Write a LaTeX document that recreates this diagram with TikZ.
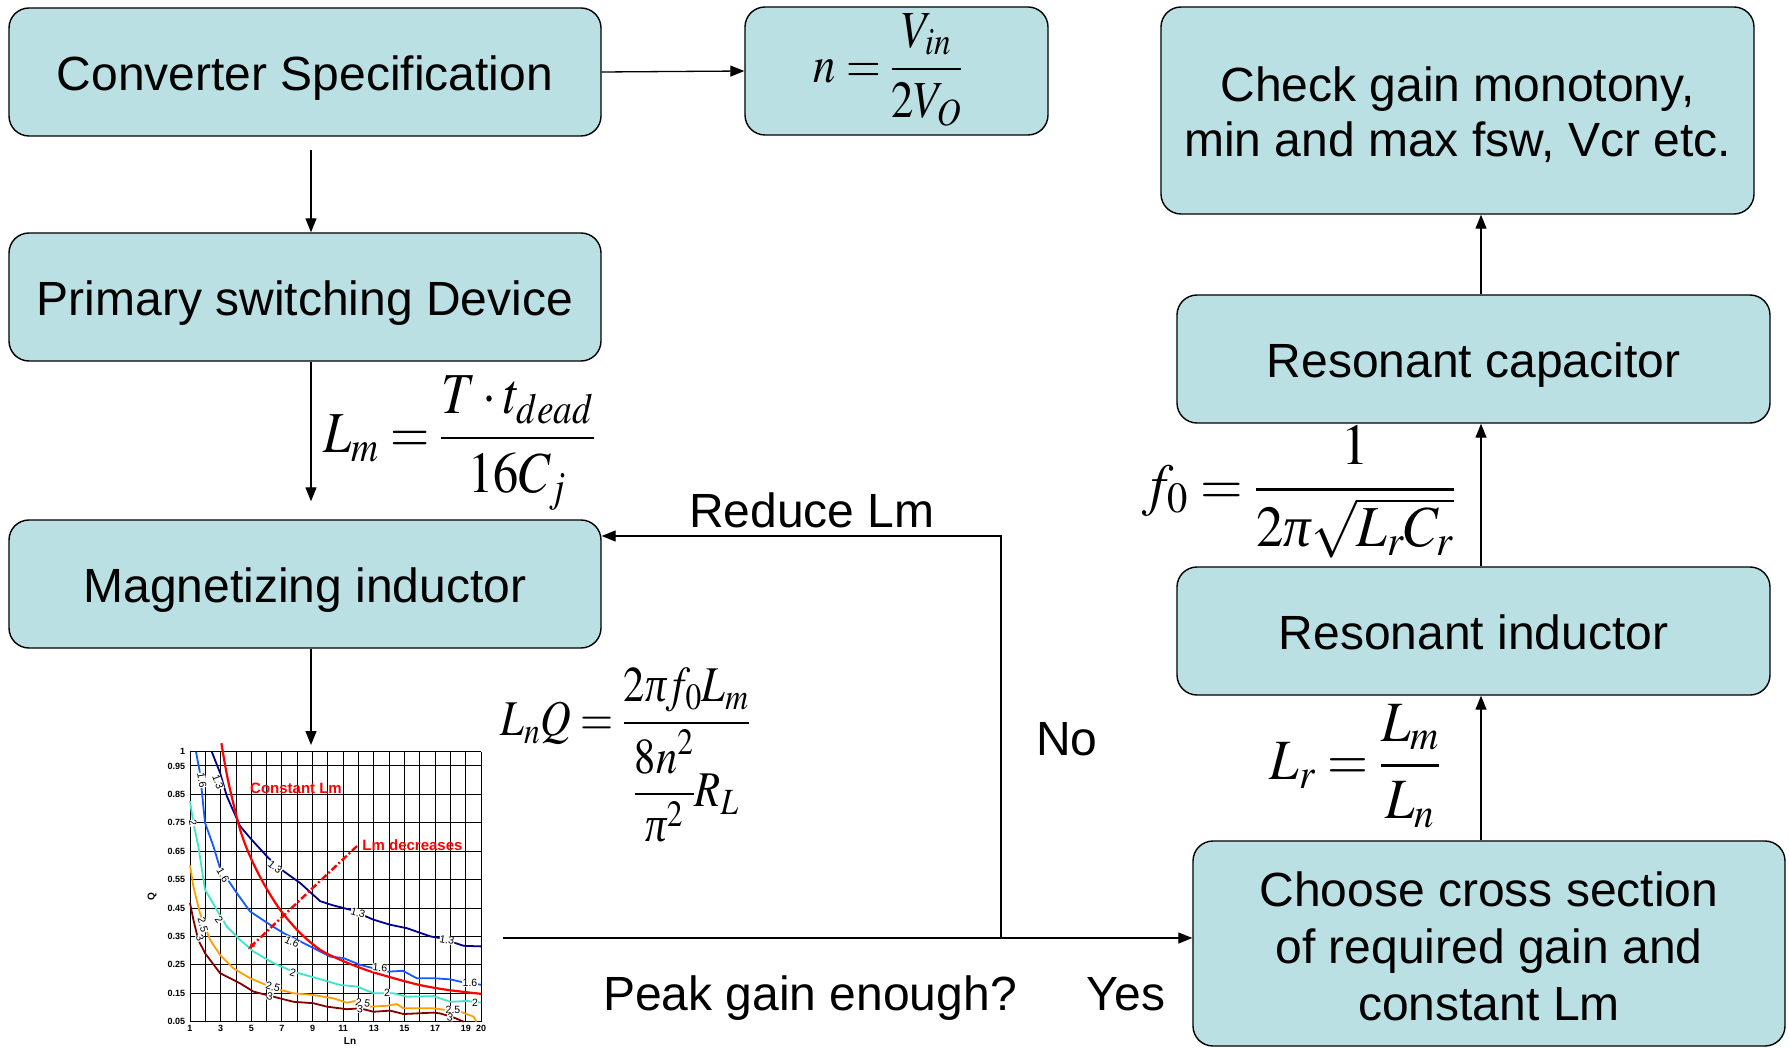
\documentclass[tikz,border=0pt]{standalone}
\usepackage{mathptmx}
\usepackage[no-math]{fontspec}
\setmainfont{Liberation Sans}
\newfontfamily\libserif{Liberation Serif}
\usetikzlibrary{arrows.meta}
\definecolor{boxfill}{RGB}{187,224,227}
\definecolor{cnavy}{RGB}{0,0,140}
\definecolor{cblue}{RGB}{20,90,255}
\definecolor{ccyan}{RGB}{60,230,200}
\definecolor{corange}{RGB}{255,160,0}
\definecolor{cmaroon}{RGB}{130,0,0}
\newcommand\flowfont{\fontsize{48}{55}\selectfont}
\newcommand\tickfont{\fontsize{9}{9}\selectfont\bfseries}
\newcommand\curvefont{\fontsize{10.5}{10.5}\selectfont}
\newcommand\ipi{\mbox{\libserif\itshape π}}
\begin{document}
\begin{tikzpicture}[x=1pt,y=-1pt,
  box/.style={draw=black,line width=1.4pt,fill=boxfill,rounded corners=20pt,inner sep=0pt,align=center,font=\flowfont},
  onebox/.style={box,text height=45pt,text depth=8pt},
  arr/.style={line width=1.3pt,-{Triangle[length=14pt,width=11pt]}},
  lbl/.style={font=\flowfont,inner sep=0pt,anchor=base},
  eqn/.style={inner sep=0pt},
  gridline/.style={line width=0.9pt,black},
  curve/.style={line width=1.8pt,line join=round},
  clab/.style={font=\curvefont,fill=white,inner sep=0.3pt},
  ticklab/.style={font=\tickfont,inner sep=0pt},
  redlab/.style={font=\fontsize{15}{16}\selectfont\bfseries,text=red,inner sep=0pt}]
\useasboundingbox (0,0) rectangle (1789,1048);

% boxes
\node[onebox,minimum width=592pt,minimum height=128pt] (conv) at (305,72) {Converter Specification};
\node[box,minimum width=303pt,minimum height=128pt] (neq) at (896.5,71) {};
\node[onebox,minimum width=592pt,minimum height=128pt] (prim) at (305,297) {Primary switching Device};
\node[onebox,minimum width=592pt,minimum height=128pt] (mag) at (305,584) {Magnetizing inductor};
\node[box,minimum width=593pt,minimum height=207pt] (check) at (1457.5,110.5) {\rule{0pt}{44pt}Check gain monotony,\\min and max fsw, Vcr etc.};
\node[onebox,minimum width=593pt,minimum height=128pt] (rcap) at (1473.5,359) {Resonant capacitor};
\node[onebox,minimum width=593pt,minimum height=128pt] (rind) at (1473.5,631) {Resonant inductor};
\node[box,minimum width=592pt,minimum height=205pt,font=\fontsize{48}{57}\selectfont] (choose) at (1489,943.5) {\rule{0pt}{40pt}Choose cross section\\of required gain and\\constant Lm};

% equations
\node[eqn,font=\fontsize{52}{54}\selectfont,xscale=0.86] (eqn) at (888,70) {$\displaystyle n=\frac{V_{in}}{2V_O}$};
\node[eqn,font=\fontsize{58}{60}\selectfont,xscale=0.87] (eqlm) at (459,443) {$\displaystyle L_m=\frac{T\cdot t_{dead}}{16C_j}$};
\node[eqn,font=\fontsize{50}{52}\selectfont,xscale=0.85] (eqlnq) at (625,755) {$\displaystyle L_nQ=\frac{2\ipi f_0L_m}{{\displaystyle\frac{8n^2}{\ipi^2}}R_L}$};
\node[eqn,font=\fontsize{58}{60}\selectfont,xscale=0.945] (eqf) at (1299,492) {$\displaystyle f_0=\frac{1}{2\ipi\sqrt{L_rC_r}}$};
\node[eqn,font=\fontsize{57}{60}\selectfont,xscale=0.925] (eqlr) at (1355,766) {$\displaystyle L_r=\frac{L_m}{L_n}$};

% labels
\node[lbl] (reduce) at (812,527) {Reduce Lm};
\node[lbl] (no) at (1067,755) {No};
\node[lbl] (peak) at (810,1010) {Peak gain enough?};
\node[lbl] (yes) at (1126,1010) {Yes};

% coordinates
\coordinate (charttop) at (311,745);
\coordinate (cstart) at (503,938);
\coordinate (fbbottom) at (1001,938);
\coordinate (fbtop) at (1001,536);

% connectors
\draw[arr] (conv.east) -- (neq.west);
\draw[arr] ([xshift=6pt,yshift=-13pt]conv.south) -- ([xshift=6pt]prim.north);
\draw[arr] ([xshift=6pt]prim.south) -- ([xshift=6pt,yshift=18pt]mag.north);
\draw[arr] ([xshift=6pt]mag.south) -- (charttop);
\draw[arr] (cstart) -- (cstart -| choose.west);
\draw[arr] (fbbottom) -- (fbtop) -- (fbtop -| mag.east);
\draw[arr] ([xshift=-8pt]choose.north) -- ([xshift=7.5pt]rind.south);
\draw[arr] ([xshift=7.5pt]rind.north) -- ([xshift=7.5pt]rcap.south);
\draw[arr] ([xshift=7.5pt]rcap.north) -- ([xshift=23.5pt]check.south);

% chart
\begin{scope}[shift={(190,1021.7)}]
\begin{scope}[x=15.32pt,y=284.2pt,shift={(-1,-0.05)}]
  \foreach \i in {1,...,20} \draw[gridline] (\i,0.05) -- (\i,1);
  \foreach \q in {0.05,0.15,0.25,0.35,0.45,0.55,0.65,0.75,0.85,0.95,1} \draw[gridline] (1,\q) -- (20,\q);
  \foreach \i in {1,3,5,7,9,11,13,15,17,19,20} \node[ticklab,anchor=north] (xt\i) at (\i,0.038) {\i};
  \foreach \q/\n in {0.05/a,0.15/b,0.25/c,0.35/d,0.45/e,0.55/f,0.65/g,0.75/h,0.85/i,0.95/j,1/k} \node[ticklab,anchor=east] (yt\n) at (0.7,\q) {\q};
  \draw[curve,cnavy] plot coordinates {(2.42,1.0) (2.96,0.926) (3.40,0.844) (4.27,0.738) (5.03,0.69) (6.12,0.626) (7.1,0.58) (8.19,0.538) (9.5,0.474) (10.3,0.46) (11.46,0.444) (12.98,0.409) (14.07,0.391) (15.16,0.379) (16.7,0.35) (17.34,0.344) (18.87,0.317) (20,0.315)};
  \draw[curve,cblue] plot coordinates {(1.39,1.0) (1.65,0.926) (1.98,0.75) (2.53,0.667) (2.96,0.59) (4.05,0.503) (4.92,0.438) (6.23,0.391) (7.1,0.362) (9.06,0.309) (10.15,0.279) (11.02,0.274) (12.1,0.25) (12.98,0.238) (13.85,0.226) (14.9,0.229) (15.8,0.203) (16.9,0.203) (17.99,0.199) (18.87,0.188) (20,0.18)};
  \draw[curve,ccyan] plot coordinates {(1,0.826) (1.22,0.75) (1.54,0.668) (1.98,0.515) (2.74,0.444) (3.4,0.385) (4.27,0.338) (5.14,0.297) (6.45,0.256) (7.76,0.226) (9.28,0.203) (10.8,0.179) (11.9,0.174) (12.98,0.15) (14.29,0.15) (15.16,0.138) (16.9,0.14) (17.99,0.12) (19.08,0.123) (20,0.117)};
  \draw[curve,corange] plot coordinates {(1,0.6) (1.22,0.526) (1.65,0.432) (2.31,0.338) (2.96,0.285) (3.83,0.238) (4.92,0.203) (6.45,0.168) (7.76,0.15) (9.06,0.144) (10.37,0.132) (11.24,0.117) (12.1,0.126) (12.76,0.103) (13.85,0.106) (14.5,0.112) (14.94,0.097) (16.9,0.097) (17.77,0.091) (18.65,0.085) (19.5,0.068) (19.7,0.05)};
  \draw[curve,cmaroon] plot coordinates {(1,0.468) (1.22,0.409) (1.54,0.338) (1.98,0.291) (2.96,0.221) (4.27,0.185) (5.14,0.156) (6.45,0.138) (7.76,0.12) (9.06,0.115) (9.93,0.103) (11.24,0.094) (12.1,0.097) (12.98,0.085) (14.07,0.089) (14.94,0.077) (16.9,0.082) (17.34,0.079) (18.2,0.065) (18.87,0.05)};
  \draw[curve,red,line width=2.2pt] plot[smooth] coordinates {(3.05,1.03) (3.3,0.95) (3.61,0.868) (4.27,0.726) (4.92,0.632) (5.79,0.538) (6.88,0.444) (8.19,0.362) (9.5,0.303) (10.8,0.268) (12.5,0.232) (14.3,0.203) (16.0,0.179) (17.8,0.162) (20,0.148)};
  \draw[red,line width=2.4pt,dash pattern=on 7pt off 2.5pt on 2pt off 2.5pt,-{Latex[length=8pt,width=6pt]}] (11.9,0.668) -- (4.75,0.303);
\end{scope}
\end{scope}
\node[redlab] (constlm) at (296,788) {Constant Lm};
\node[redlab] (lmdec) at (412.5,845) {Lm decreases};
\node[font=\fontsize{10}{10}\selectfont\bfseries,rotate=90,inner sep=0pt] (qlab) at (152,897) {Q};
\node[font=\fontsize{10}{10}\selectfont\bfseries,inner sep=0pt] (lnlab) at (350,1041) {Ln};
% curve labels
\node[clab,rotate=-70] (a1) at (218,782) {1.3};
\node[clab,rotate=-40] (a2) at (275,867) {1.3};
\node[clab,rotate=-15] (a3) at (358,913) {1.3};
\node[clab,rotate=-10] (a4) at (447,940) {1.3};
\node[clab,rotate=-80] (b1) at (202,780) {1.6};
\node[clab,rotate=-60] (b2) at (223,875) {1.6};
\node[clab,rotate=-25] (b3) at (292,942) {1.6};
\node[clab,rotate=-5] (b4) at (380,968) {1.6};
\node[clab] (b5) at (470,983) {1.6};
\node[clab,rotate=-80] (c1) at (193,823) {2};
\node[clab,rotate=-55] (c2) at (219,920) {2};
\node[clab,rotate=-15] (c3) at (293,973) {2};
\node[clab] (c4) at (387,993) {2};
\node[clab] (c5) at (475,1003) {2};
\node[clab,rotate=-75] (d1) at (203,925) {2.5};
\node[clab,rotate=-15] (d2) at (273,987) {2.5};
\node[clab,rotate=-10] (d3) at (363,1003) {2.5};
\node[clab] (d4) at (453,1010) {2.5};
\node[clab,rotate=-70] (e1) at (200,938) {3};
\node[clab,rotate=-10] (e2) at (270,996) {3};
\node[clab,rotate=-5] (e3) at (360,1009) {3};
\node[clab,rotate=-10] (e4) at (450,1017) {3};
\end{tikzpicture}
\end{document}
